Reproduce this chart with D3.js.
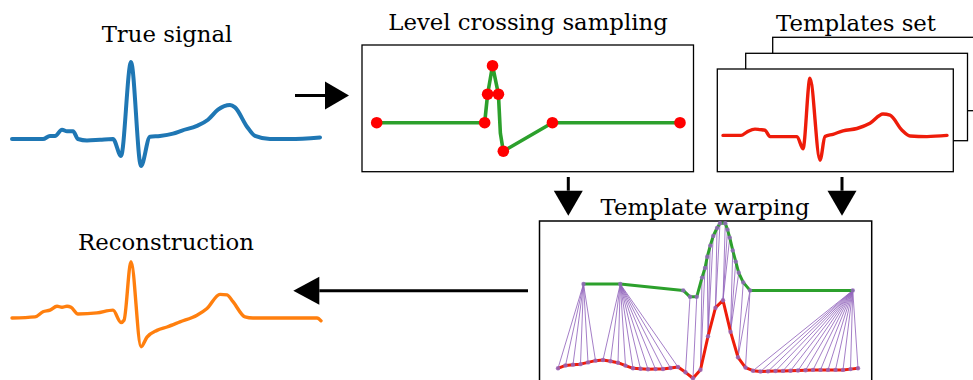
<!DOCTYPE html>
<html><head><meta charset="utf-8">
<script src="https://cdn.jsdelivr.net/npm/d3@7"></script>
<style>body{margin:0;background:#fff}svg{display:block}</style>
</head><body>
<svg id="c" width="973" height="380"></svg>
<script>
// ---------- DATA ----------
const titles = ["True signal", "Level crossing sampling", "Templates set", "Template warping", "Reconstruction"];

// true ECG signal (time in samples, amplitude normalised to R peak)
const trueT = [0,31,38,43,50,55,61,66,75,88,101,109,119,129,138,148,161,170,185,196,206,218,223,235,243,258,278,308];
const trueV = [0,0,0.04,0.04,0.12,0.10,0.10,0,-0.02,-0.01,0.00,-0.22,1.00,-0.35,0.03,0.04,0.07,0.11,0.17,0.25,0.38,0.44,0.41,0.16,0.04,0,0,0.02];

// level crossing samples (time, level index) and the drawn path
const lcSampleT = [0,110,113,118,124,129,179,309];
const lcSampleV = [0,0,1,2,1,-1,0,0];
const lcLineT = [0,110,113,118,124,126,129,179,309];
const lcLineV = [0,0,1,2,1,-0.37,-1,0,0];

// template ECG
const tmplT = [0,18,24,32,37,42,47,74,80,87,97,102,110,120,134,147,160,167,179,187,204,224];
const tmplV = [0.01,0.01,0.07,0.12,0.11,0.10,-0.01,-0.01,-0.22,1.00,-0.42,-0.01,0.03,0.09,0.13,0.22,0.38,0.36,0.10,0,-0.01,0.01];

// warping panel: level-crossing signal (green) in template-sample units
const warpGT = [3.4,8.3,16.7,17.6,18.5,19.2,19.6,19.9,20.3,20.7,21.2,21.6,22.3,22.6,22.9,23.3,23.7,24.1,24.7,25.6,39.3];
const warpGV = [60,60,56,52,52,64,70,77,84,90,95,98,98,94,89,81,74,67,61,56,56];
// warping panel: template samples (red)
const warpRT = [0,1,2,3,4,5,6,7,8,9,10,11,12,13,14,15,16,17,18,19,20,21,22,23,24,25,26,27,28,29,30,31,32,33,34,35,36,37,38,39,40];
const warpRV = [7.3,9.1,9.6,9.9,11,12.1,12.5,11.7,10.8,9,7.3,7,6.7,6.8,6.9,7.5,8.1,4.8,1.1,6.4,27.3,45.2,49.8,30.2,14.2,7.8,5.8,5.3,5.4,5.6,5.7,5.8,5.9,6.1,6.3,6.3,6.3,6.3,6.3,6.8,7.3];
// warping path: [green index, template index]
const warpLinks = [
  [0,0],[0,1],[0,2],[0,3],[0,4],[0,5],
  [1,6],[1,7],[1,8],[1,9],[1,10],[1,11],[1,12],[1,13],[1,14],[1,15],[1,16],
  [3,17],[4,18],
  [5,19],[6,19],[7,20],[8,20],[9,20],[10,21],[11,21],[12,22],[13,22],[14,22],[15,23],[16,23],[17,23],[18,24],[19,24],[19,25],
  [20,26],[20,27],[20,28],[20,29],[20,30],[20,31],[20,32],[20,33],[20,34],[20,35],[20,36],[20,37],[20,38],[20,39],[20,40]
];

// reconstruction
const reconT = [0,23,31,38,45,50,55,59,66,85,101,109,112,119,129,135,145,155,168,185,195,208,215,221,233,241,271,305,309];
const reconV = [0,0.02,0.11,0.14,0.21,0.19,0.21,0.19,0.07,0.09,0.14,-0.08,-0.04,1.00,-0.51,-0.34,-0.22,-0.16,-0.07,0.05,0.17,0.42,0.41,0.29,0.02,0,0,0,-0.05];

// ---------- DRAWING ----------
const svg = d3.select("#c");
const C = {blue:"#1f77b4", orange:"#ff7f0e", green:"#2ca02c", red:"#ff0000", tred:"#ee1c0a", purple:"#9467bd"};
const FONT = "DejaVu Serif";

function zipXY(xs, ys){ return xs.map((x,i)=>[x, ys[i]]); }
function drawLine(xs, ys, x, y, color, w, curve){
  svg.append("path")
    .attr("d", d3.line().x(d=>x(d[0])).y(d=>y(d[1])).curve(curve || d3.curveLinear)(zipXY(xs,ys)))
    .attr("fill","none").attr("stroke",color).attr("stroke-width",w)
    .attr("stroke-linejoin","round").attr("stroke-linecap","round");
}
function title(text, cx, baseline){
  svg.append("text").attr("x",cx).attr("y",baseline).attr("text-anchor","middle")
    .attr("font-family",FONT).attr("font-size",22.8).attr("fill","#000").text(text);
}
function box(x0,y0,x1,y1,w){
  svg.append("rect").attr("x",x0).attr("y",y0).attr("width",x1-x0).attr("height",y1-y0)
    .attr("fill","#fff").attr("stroke","#000").attr("stroke-width",w||1.3);
}
function arrow(x0,y0,x1,y1,headLen,headW){
  const dx=x1-x0, dy=y1-y0, L=Math.hypot(dx,dy), ux=dx/L, uy=dy/L, px=-uy, py=ux;
  const bx=x1-ux*headLen, by=y1-uy*headLen;
  svg.append("line").attr("x1",x0).attr("y1",y0).attr("x2",bx).attr("y2",by)
    .attr("stroke","#000").attr("stroke-width",3);
  svg.append("path").attr("d",`M${x1},${y1}L${bx+px*headW/2},${by+py*headW/2}L${bx-px*headW/2},${by-py*headW/2}Z`)
    .attr("fill","#000");
}

// 1. True signal
{
  const x = d3.scaleLinear().domain([0,309]).range([12,321]);
  const y = d3.scaleLinear().domain([0,1]).range([139,62]);
  drawLine(trueT, trueV, x, y, C.blue, 4, d3.curveMonotoneX);
  title(titles[0], 167, 42);
}

// 2. Level crossing sampling
{
  box(362,45,693.5,171.7);
  const x = d3.scaleLinear().domain([0,309]).range([376.7,680]);
  const y = d3.scaleLinear().domain([0,1]).range([122.7,94.2]);
  drawLine(lcLineT, lcLineV, x, y, C.green, 3.6);
  svg.append("g").selectAll("circle").data(zipXY(lcSampleT, lcSampleV)).join("circle")
    .attr("cx",d=>x(d[0])).attr("cy",d=>y(d[1])).attr("r",5.8).attr("fill",C.red);
  title(titles[1], 528, 30);
}

// 3. Templates set
{
  box(772.7,37.3,995,110.7);
  box(745.7,53.3,967.5,140.7);
  box(717.3,69,953.3,171.7);
  const x = d3.scaleLinear().domain([0,224]).range([723,947]);
  const y = d3.scaleLinear().domain([0,1]).range([136,78.3]);
  drawLine(tmplT, tmplV, x, y, C.tred, 3.4, d3.curveMonotoneX);
  title(titles[2], 856, 31);
}

// 4. Template warping
{
  box(539.5,221,871.7,392,1.5);
  const x = d3.scaleLinear().domain([0,40]).range([558,858]);
  const y = d3.scaleLinear().domain([0,100]).range([380,220]);
  svg.append("g").selectAll("line").data(warpLinks).join("line")
    .attr("x1",d=>x(warpGT[d[0]])).attr("y1",d=>y(warpGV[d[0]]))
    .attr("x2",d=>x(warpRT[d[1]])).attr("y2",d=>y(warpRV[d[1]]))
    .attr("stroke",C.purple).attr("stroke-width",1).attr("stroke-opacity",0.85);
  drawLine(warpGT, warpGV, x, y, C.green, 3);
  drawLine(warpRT, warpRV, x, y, C.tred, 3);
  const dots = zipXY(warpGT,warpGV).concat(zipXY(warpRT,warpRV));
  svg.append("g").selectAll("circle").data(dots).join("circle")
    .attr("cx",d=>x(d[0])).attr("cy",d=>y(d[1])).attr("r",2.2)
    .attr("fill",C.purple).attr("fill-opacity",0.85);
  title(titles[3], 705, 215);
}

// 5. Reconstruction
{
  const x = d3.scaleLinear().domain([0,309]).range([12,321]);
  const y = d3.scaleLinear().domain([0,1]).range([318,261.7]);
  drawLine(reconT, reconV, x, y, C.orange, 3.4, d3.curveMonotoneX);
  title(titles[4], 166, 250);
}

// arrows
arrow(295,95.5,349,95.5,24,28);
arrow(568.3,177,568.3,215.7,25,29);
arrow(842,177,842,215.7,25,29);
arrow(528,290.7,293.3,290.7,26,28);
</script>
</body></html>
